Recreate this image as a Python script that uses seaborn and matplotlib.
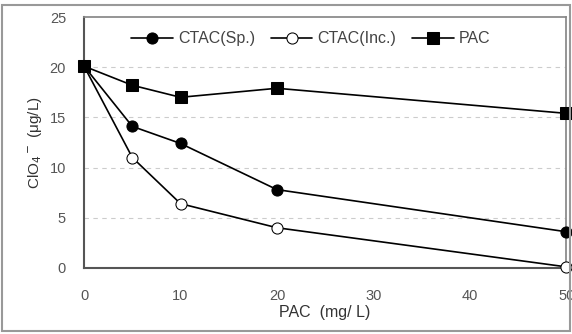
import matplotlib
matplotlib.use("Agg")
import matplotlib.pyplot as plt
import seaborn as sns
import pandas as pd
from matplotlib.patches import Rectangle

pac_dose = [0, 5, 10, 20, 50]
ctac_sp = [20.1, 14.1, 12.4, 7.8, 3.6]
ctac_inc = [20.1, 11.0, 6.4, 4.0, 0.1]
pac = [20.1, 18.2, 17.0, 17.9, 15.4]
series_names = ["CTAC(Sp.)", "CTAC(Inc.)", "PAC"]
x_ticks = [0, 10, 20, 30, 40, 50]
y_ticks = [0, 5, 10, 15, 20, 25]

sns.set_theme(style="white")
plt.rcParams['font.family'] = ['Liberation Sans', 'DejaVu Sans']

df = pd.DataFrame({
    "dose": pac_dose * 3,
    "value": ctac_sp + ctac_inc + pac,
    "series": [series_names[0]] * 5 + [series_names[1]] * 5 + [series_names[2]] * 5,
})

fig = plt.figure(figsize=(5.72, 3.34), dpi=100)
ax = fig.add_axes([0.147, 0.198, 0.843, 0.751])

styles = {
    "CTAC(Sp.)": dict(marker="o", mfc="black", ms=8),
    "CTAC(Inc.)": dict(marker="o", mfc="white", ms=8),
    "PAC": dict(marker="s", mfc="black", ms=8),
}
sns.lineplot(data=df, x="dose", y="value", hue="series", palette=["black"] * 3,
             ax=ax, legend=False, lw=1.2)
for line, name in zip(ax.lines, series_names):
    st = styles[name]
    line.set_marker(st["marker"])
    line.set_markerfacecolor(st["mfc"])
    line.set_markeredgecolor("black")
    line.set_markersize(st["ms"])
    line.set_clip_on(False)
    line.set_label(name)
    line.set_zorder(5)

ax.set_xlim(0, 50)
ax.set_ylim(0, 25)
ax.set_xticks(x_ticks)
ax.set_yticks(y_ticks)
ax.tick_params(axis="x", labelsize=10.5, colors="#555555", length=3, direction="in",
               color="#aaaaaa", pad=15)
ax.tick_params(axis="y", labelsize=10.5, colors="#555555", length=0, pad=13)
for gy in [5, 10, 15, 20]:
    ax.axhline(gy, color="#cccccc", ls=(0, (4, 4)), lw=0.8, zorder=0)

ax.spines["left"].set_color("#555555")
ax.spines["bottom"].set_color("#555555")
ax.spines["left"].set_linewidth(1.5)
ax.spines["bottom"].set_linewidth(1.5)
ax.spines["top"].set_color("#888888")
ax.spines["right"].set_color("#888888")

ax.set_xlabel("PAC  (mg/ L)", fontsize=11.5, color="#333333", labelpad=2)
ax.set_ylabel("ClO$_4$$^-$ (μg/L)", fontsize=11, color="#333333", labelpad=4)

ax.legend(handles=ax.lines, labels=series_names, loc="upper center",
          bbox_to_anchor=(0.47, 1.0), ncol=3, frameon=False, fontsize=11.5,
          handlelength=2.6, columnspacing=1.0, handletextpad=0.3,
          labelcolor="#444444")

fig.patches.append(Rectangle((0.003, 0.008), 0.994, 0.977, transform=fig.transFigure,
                             fill=False, edgecolor="#999999", lw=1.5))

fig.savefig("out.png", dpi=100)
